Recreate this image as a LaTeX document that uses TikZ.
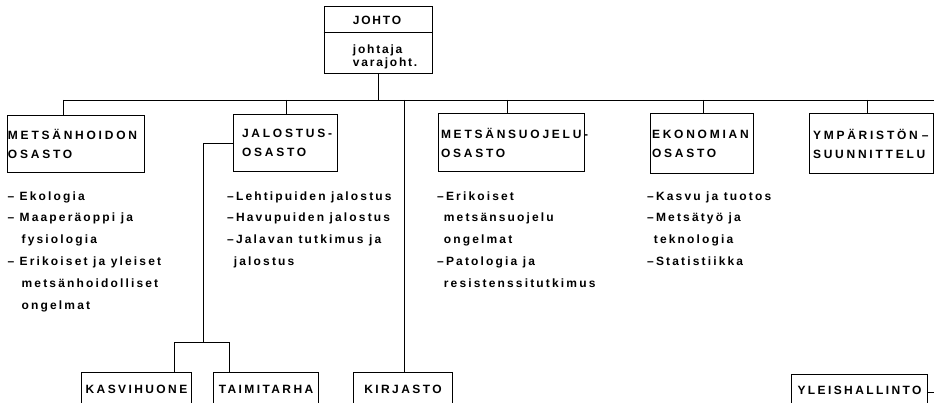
\documentclass[tikz,border=0pt]{standalone}
\usepackage{fontspec}
\setmainfont{Liberation Sans}
\newfontfamily\listfont{Liberation Sans}[LetterSpace=18]
\newfontfamily\deptfont{Liberation Sans}[LetterSpace=23]
\newfontfamily\unitfont{Liberation Sans}[LetterSpace=20]
\newfontfamily\johtofont{Liberation Sans}[LetterSpace=15]
\begin{document}
\begin{tikzpicture}[x=1pt,y=-1pt,
  box/.style={draw,line width=1pt,inner sep=0pt},
  dept/.style={box,anchor=north west,align=left,font=\deptfont\bfseries\fontsize{12}{19}\selectfont},
  unit/.style={box,anchor=north west,align=center,font=\unitfont\bfseries\fontsize{12}{14}\selectfont},
  list/.style={anchor=north west,align=left,inner sep=0pt,font=\listfont\bfseries\fontsize{12}{21.8}\selectfont},
  conn/.style={line width=0.8pt}]
\useasboundingbox (0,0) rectangle (934,403);
\clip (0,0) rectangle (934,403);

% JOHTO
\node[box,minimum width=108pt,minimum height=67pt] (johto) at (378,40.5) {};
\coordinate (jd) at (378,33);
\draw[line width=1pt] (johto.west |- jd) -- (johto.east |- jd);
\node[font=\johtofont\bfseries\fontsize{12}{14}\selectfont,inner sep=0pt] (johtot) at (377,20) {JOHTO};
\node[anchor=north west,align=left,inner sep=0pt,font=\johtofont\bfseries\fontsize{12}{13}\selectfont] (johtaj) at (352.7,45) {johtaja\\varajoht.};

% departments
\node[dept,inner xsep=0.5pt,text width=136pt,minimum height=57pt] (metsh) at (7,115) {\mbox{METSÄNHOIDON}\\OSASTO};
\node[dept,inner xsep=8.5pt,text width=87pt,minimum height=57pt] (jal) at (233,114) {\mbox{JALOSTUS-}\\OSASTO};
\node[dept,inner xsep=2.5pt,text width=141pt,minimum height=58pt] (mets) at (438,113) {\mbox{METSÄNSUOJELU-}\\OSASTO};
\node[dept,inner xsep=1.5pt,text width=100pt,minimum height=60pt] (ekon) at (650,113) {\mbox{EKONOMIAN}\\OSASTO};
\node[dept,inner xsep=3.5pt,text width=117pt,minimum height=60pt] (ymp) at (809,113) {\mbox{YMPÄRISTÖN –}\\SUUNNITTELU};

% lists
\node[list] (l1) at (7.3,191.3) {– Ekologia\\– Maaperäoppi ja\\\phantom{– }\hspace{2pt}fysiologia\\– Erikoiset ja yleiset\\\phantom{– }\hspace{2pt}metsänhoidolliset\\\phantom{– }\hspace{2pt}ongelmat};
\node[list] (l2) at (227,191.3) {–Lehtipuiden jalostus\\–Havupuiden jalostus\\–Jalavan tutkimus ja\\\phantom{–}jalostus};
\node[list] (l3) at (437,191.3) {–Erikoiset\\\phantom{–}metsänsuojelu\\\phantom{–}ongelmat\\–Patologia ja\\\phantom{–}resistenssitutkimus};
\node[list] (l4) at (647,191.3) {–Kasvu ja tuotos\\–Metsätyö ja\\\phantom{–}teknologia\\–Statistiikka};

% bottom units
\node[unit,minimum width=110pt,minimum height=34pt] (kasvi) at (81,372) {KASVIHUONE};
\node[unit,minimum width=105pt,minimum height=34pt] (taimi) at (213,372) {TAIMITARHA};
\node[unit,minimum width=99pt,minimum height=34pt] (kirj) at (353,372) {KIRJASTO};
\node[unit,minimum width=136pt,minimum height=32pt] (yleis) at (791,374) {YLEISHALLINTO};

% connectors
\coordinate (busL) at (63,100);
\coordinate (busR) at (934,100);
\coordinate (s2) at (286,100);
\coordinate (s3) at (507,100);
\coordinate (s4) at (703,100);
\coordinate (s5) at (867,100);
\coordinate (s6) at (404,100);
\draw[conn] (johto.south) -- (johto.south |- busL);
\draw[conn] (busL) -- (busR);
\draw[conn] (busL) -- (busL |- metsh.north);
\draw[conn] (s2) -- (s2 |- jal.north);
\draw[conn] (s3) -- (s3 |- mets.north);
\draw[conn] (s4) -- (s4 |- ekon.north);
\draw[conn] (s5) -- (s5 |- ymp.north);
\draw[conn] (s6) -- (s6 |- kirj.north);

\coordinate (jv) at (203,342);
\coordinate (k1) at (174,342);
\coordinate (t1) at (229,342);
\draw[conn] (jal.west) -| (jv);
\draw[conn] (k1) -- (t1);
\draw[conn] (k1) -- (k1 |- kasvi.north);
\draw[conn] (t1) -- (t1 |- taimi.north);

\coordinate (yt) at (934,392);
\draw[conn] (yt -| yleis.east) -- (yt);
\end{tikzpicture}
\end{document}
